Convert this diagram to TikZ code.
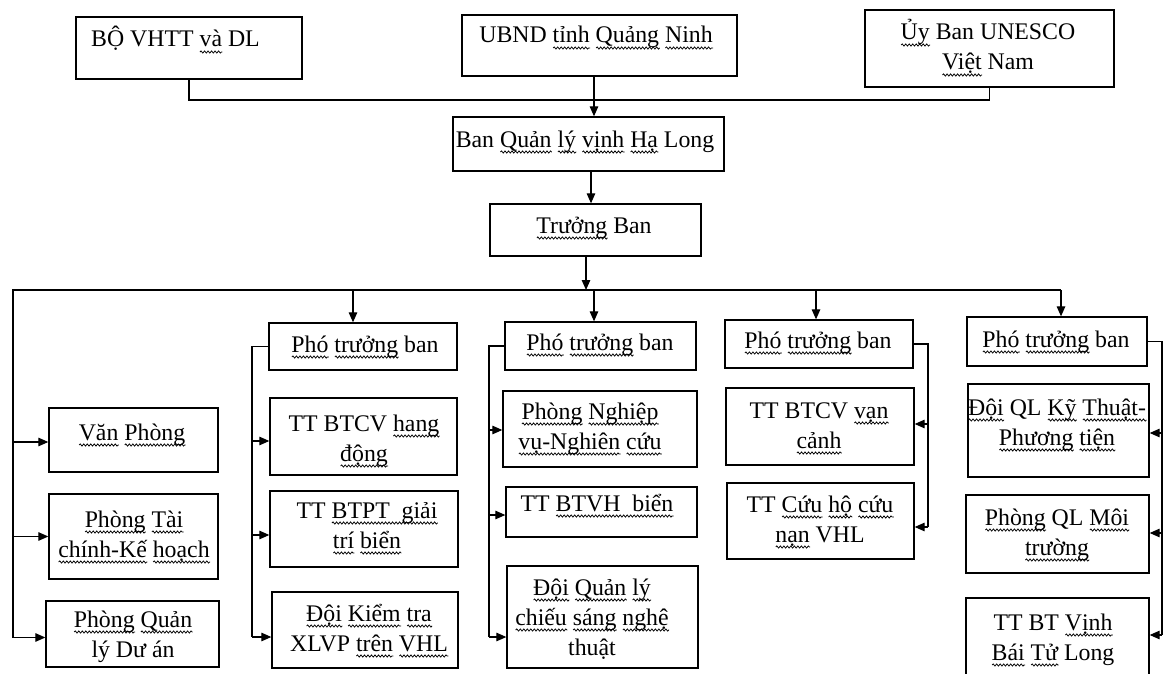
\documentclass[tikz,border=0pt]{standalone}
\usepackage{fontspec}
\setmainfont{Liberation Serif}
\usetikzlibrary{arrows.meta,fit,decorations.pathmorphing}
\newlength\sqwidth
\newcommand\sq[1]{\settowidth\sqwidth{#1}\leavevmode\rlap{\tikz[baseline=0pt]\draw[line width=0.75pt, decorate, decoration={snake,amplitude=1.1pt,segment length=3.5pt}] (0pt,-5pt) -- (\sqwidth,-5pt);}#1}
\begin{document}
\begin{tikzpicture}[x=1pt,y=-1pt,
  box/.style={draw, line width=1.3pt, inner sep=0pt},
  lab/.style={inner sep=0pt, align=center, anchor=base, font=\fontsize{23.8}{30}\selectfont},
  con/.style={line width=1.2pt},
  arr/.style={con, -{Triangle[length=10pt,width=8.5pt]}}]
\useasboundingbox (0,0) rectangle (1164,674);
% ---------- boxes ----------
\node[box, fit={(76,17) (302,79)}] (bo) {};
\node[box, fit={(462,15) (737,76)}] (ubnd) {};
\node[box, fit={(865,10) (1114,87)}] (une) {};
\node[box, fit={(453,117) (724,171)}] (ban) {};
\node[box, fit={(490,204) (701,256)}] (tb) {};
\node[box, fit={(269,323) (457,370)}] (ptb1) {};
\node[box, fit={(505,322) (696,370)}] (ptb2) {};
\node[box, fit={(725,320) (913,368)}] (ptb3) {};
\node[box, fit={(967,317) (1147,366)}] (ptb4) {};
\node[box, fit={(49,408) (218,472)}] (vp) {};
\node[box, fit={(49,494) (218,579)}] (tc) {};
\node[box, fit={(46,601) (219,667)}] (qlda) {};
\node[box, fit={(270,398) (457,475)}] (hd) {};
\node[box, fit={(270,491) (458,567)}] (tp) {};
\node[box, fit={(272,592) (458,668)}] (kt) {};
\node[box, fit={(503,391) (697,467)}] (nv) {};
\node[box, fit={(506,487) (697,537)}] (bvh) {};
\node[box, fit={(507,566) (698,668)}] (cs) {};
\node[box, fit={(726,388) (914,465)}] (vc) {};
\node[box, fit={(727,483) (914,559)}] (ch) {};
\node[box, fit={(968,384) (1149,477)}] (ky) {};
\node[box, fit={(966,495) (1149,573)}] (mt) {};
\node[box, fit={(966,598) (1149,682)}] (vb) {};
% ---------- texts (anchor = baseline of the last line) ----------
\node[lab, anchor=base west] (tbo) at (91,47) {BỘ VHTT \sq{và} DL};
\node[lab] (tubnd) at (596,43) {UBND \sq{tỉnh} \sq{Quảng} \sq{Ninh}};
\node[lab] (tune) at (988,70) {\sq{Ủy} Ban UNESCO\\\sq{Việt} Nam};
\node[lab] (tban) at (585,147) {Ban \sq{Quản} \sq{lý} \sq{vịnh} \sq{Hạ} Long};
\node[lab] (ttb) at (594,233) {\sq{Trưởng} Ban};
\node[lab] (tp1) at (365,352) {\sq{Phó} \sq{trưởng} ban};
\node[lab] (tp2) at (600,350) {\sq{Phó} \sq{trưởng} ban};
\node[lab] (tp3) at (818,348) {\sq{Phó} \sq{trưởng} ban};
\node[lab] (tp4) at (1056,347) {\sq{Phó} \sq{trưởng} ban};
\node[lab] (tvp) at (132,440) {\sq{Văn} \sq{Phòng}};
\node[lab] (ttc) at (134,557) {\sq{Phòng} \sq{Tài}\\\sq{chính-Kế} \sq{hoạch}};
\node[lab] (tqlda) at (133,657) {\sq{Phòng} \sq{Quản}\\lý Dư án};
\node[lab] (thd) at (364,461) {TT BTCV \sq{hang}\\\sq{động}};
\node[lab] (ttp) at (367,548) {TT \sq{BTPT\ \ giải}\\\sq{trí} \sq{biển}};
\node[lab] (tkt) at (369,651) {\sq{Đội} \sq{Kiểm} \sq{tra}\\XLVP \sq{trên} \sq{VHL}};
\node[lab] (tnv) at (590,449) {\sq{Phòng} \sq{Nghiệp}\\\sq{vụ-Nghiên} \sq{cứu}};
\node[lab] (tbvh) at (597,511) {TT \sq{BTVH\ \ biển}};
\node[lab] (tcs) at (592,655) {\sq{Đội} \sq{Quản} \sq{lý}\\\sq{chiếu} \sq{sáng} \sq{nghệ}\\thuật};
\node[lab] (tvc) at (819,448) {TT BTCV \sq{vạn}\\\sq{cảnh}};
\node[lab] (tch) at (820,542) {TT \sq{Cứu} \sq{hộ} \sq{cứu}\\\sq{nạn} VHL};
\node[lab] (tky) at (1057,445) {\sq{Đội} QL \sq{Kỹ} \sq{Thuật-}\\\sq{Phương} \sq{tiện}};
\node[lab] (tmt) at (1057,555) {\sq{Phòng} QL \sq{Môi}\\\sq{trường}};
\node[lab] (tvb) at (1053,660) {TT BT \sq{Vịnh}\\\sq{Bái} \sq{Tử} Long};
% ---------- helper coordinates ----------
\coordinate (topY) at (0,100);
\coordinate (busY) at (0,290);
\coordinate (a1) at (594,0);
\coordinate (a2) at (591,0);
\coordinate (a3) at (586,0);
\coordinate (xL) at (13,0);
\coordinate (x2) at (252,0);
\coordinate (x3) at (489,0);
\coordinate (x4) at (928,0);
\coordinate (x5) at (1162,0);
\coordinate (d1) at (353,0);
\coordinate (d2) at (594,0);
\coordinate (d3) at (816,0);
\coordinate (d4) at (1061,0);
\coordinate (vpA) at ([yshift=-2pt]vp.west);
\coordinate (tcA) at (tc.west);
\coordinate (qldaA) at ([yshift=-3.5pt]qlda.west);
\coordinate (hdA) at ([yshift=-4.5pt]hd.west);
\coordinate (tpA) at ([yshift=-6pt]tp.west);
\coordinate (ktA) at ([yshift=-7pt]kt.west);
\coordinate (nvA) at ([yshift=-1pt]nv.west);
\coordinate (bvhA) at ([yshift=-3pt]bvh.west);
\coordinate (csA) at ([yshift=-20pt]cs.west);
\coordinate (vcA) at ([yshift=2.5pt]vc.east);
\coordinate (chA) at ([yshift=-6pt]ch.east);
\coordinate (kyA) at ([yshift=-2.5pt]ky.east);
\coordinate (mtA) at ([yshift=1pt]mt.east);
\coordinate (vbA) at ([yshift=5pt]vb.east);
% ---------- connectors ----------
\draw[con] (bo.south) |- (topY -| une.south) -- (une.south);
\draw[arr] (ubnd.south -| a1) -- (ban.north -| a1);
\draw[arr] (ban.south -| a2) -- (tb.north -| a2);
\draw[arr] (tb.south -| a3) -- (a3 |- busY);
\draw[con] (d4 |- busY) -- (xL |- busY) -- (xL |- qldaA);
\draw[arr] (d1 |- busY) -- (d1 |- ptb1.north);
\draw[arr] (d2 |- busY) -- (d2 |- ptb2.north);
\draw[arr] (d3 |- busY) -- (d3 |- ptb3.north);
\draw[arr] (d4 |- busY) -- (d4 |- ptb4.north);
% column 1
\draw[arr] (xL |- vpA) -- (vpA);
\draw[arr] (xL |- tcA) -- (tcA);
\draw[arr] (xL |- qldaA) -- (qldaA);
% column 2
\draw[con] (ptb1.west) -| (x2 |- ktA);
\draw[arr] (x2 |- hdA) -- (hdA);
\draw[arr] (x2 |- tpA) -- (tpA);
\draw[arr] (x2 |- ktA) -- (ktA);
% column 3
\draw[con] (ptb2.west) -| (x3 |- csA);
\draw[arr] (x3 |- nvA) -- (nvA);
\draw[arr] (x3 |- bvhA) -- (bvhA);
\draw[arr] (x3 |- csA) -- (csA);
% column 4
\draw[con] (ptb3.east) -| (x4 |- chA);
\draw[arr] (x4 |- vcA) -- (vcA);
\draw[arr] (x4 |- chA) -- (chA);
% column 5
\draw[con] (ptb4.east) -| (x5 |- vbA);
\draw[arr] (x5 |- kyA) -- (kyA);
\draw[arr] (x5 |- mtA) -- (mtA);
\draw[arr] (x5 |- vbA) -- (vbA);
\end{tikzpicture}
\end{document}
